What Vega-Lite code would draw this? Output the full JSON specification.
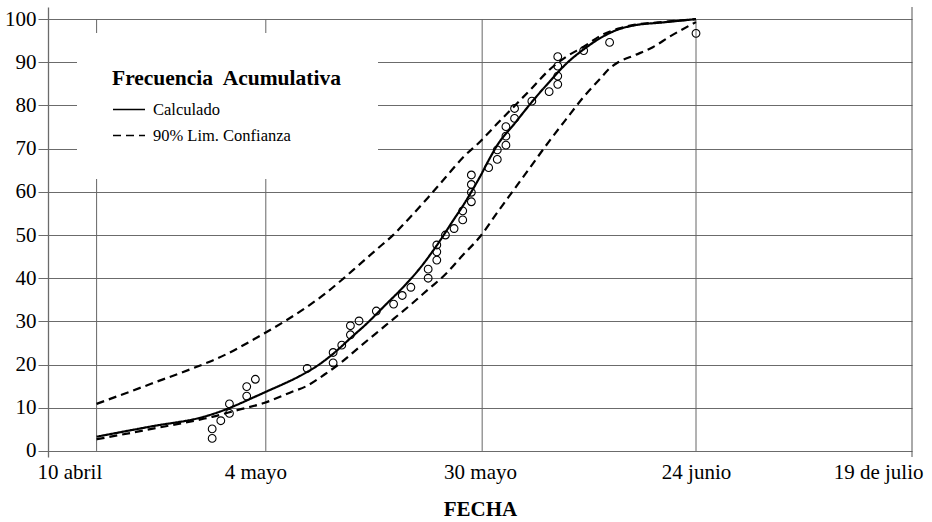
{
  "$schema": "https://vega.github.io/schema/vega-lite/v6.json",
  "width": 864,
  "height": 450,
  "autosize": {"type": "none"},
  "padding": {"left": 48, "top": 7, "right": 20, "bottom": 65},
  "background": "white",
  "config": {
    "view": {"stroke": null},
    "font": "Liberation Serif",
    "axis": {"labelFont": "Liberation Serif", "titleFont": "Liberation Serif", "labelColor": "black", "titleColor": "black"}
  },
  "datasets": {
    "rejilla": [
      {"fecha": "2021-04-15T15:00:00Z"},
      {"fecha": "2021-05-05T05:00:00Z"},
      {"fecha": "2021-05-30T06:00:00Z"},
      {"fecha": "2021-06-24"}
    ],
    "borde": [
      {"fecha": "2021-07-19"}
    ],
    "curvas": [
      {"fecha": "2021-04-15T15:00:00Z", "curva": "Calculado", "tipo": "Calculado", "valor": 3.3},
      {"fecha": "2021-04-22", "curva": "Calculado", "tipo": "Calculado", "valor": 5.7},
      {"fecha": "2021-04-28", "curva": "Calculado", "tipo": "Calculado", "valor": 7.9},
      {"fecha": "2021-04-29", "curva": "Calculado", "tipo": "Calculado", "valor": 8.5},
      {"fecha": "2021-05-05", "curva": "Calculado", "tipo": "Calculado", "valor": 13.5},
      {"fecha": "2021-05-10", "curva": "Calculado", "tipo": "Calculado", "valor": 18.3},
      {"fecha": "2021-05-11", "curva": "Calculado", "tipo": "Calculado", "valor": 19.5},
      {"fecha": "2021-05-13", "curva": "Calculado", "tipo": "Calculado", "valor": 22.5},
      {"fecha": "2021-05-15", "curva": "Calculado", "tipo": "Calculado", "valor": 26.1},
      {"fecha": "2021-05-17", "curva": "Calculado", "tipo": "Calculado", "valor": 29.7},
      {"fecha": "2021-05-19", "curva": "Calculado", "tipo": "Calculado", "valor": 33.7},
      {"fecha": "2021-05-21", "curva": "Calculado", "tipo": "Calculado", "valor": 37.7},
      {"fecha": "2021-05-23", "curva": "Calculado", "tipo": "Calculado", "valor": 42.2},
      {"fecha": "2021-05-25", "curva": "Calculado", "tipo": "Calculado", "valor": 47.6},
      {"fecha": "2021-05-27", "curva": "Calculado", "tipo": "Calculado", "valor": 53.7},
      {"fecha": "2021-05-28", "curva": "Calculado", "tipo": "Calculado", "valor": 56.7},
      {"fecha": "2021-05-29", "curva": "Calculado", "tipo": "Calculado", "valor": 60.0},
      {"fecha": "2021-05-30", "curva": "Calculado", "tipo": "Calculado", "valor": 63.5},
      {"fecha": "2021-05-31", "curva": "Calculado", "tipo": "Calculado", "valor": 67.3},
      {"fecha": "2021-06-01", "curva": "Calculado", "tipo": "Calculado", "valor": 70.8},
      {"fecha": "2021-06-03", "curva": "Calculado", "tipo": "Calculado", "valor": 75.8},
      {"fecha": "2021-06-05", "curva": "Calculado", "tipo": "Calculado", "valor": 80.8},
      {"fecha": "2021-06-07", "curva": "Calculado", "tipo": "Calculado", "valor": 85.4},
      {"fecha": "2021-06-09", "curva": "Calculado", "tipo": "Calculado", "valor": 89.7},
      {"fecha": "2021-06-11", "curva": "Calculado", "tipo": "Calculado", "valor": 93.0},
      {"fecha": "2021-06-13", "curva": "Calculado", "tipo": "Calculado", "valor": 95.7},
      {"fecha": "2021-06-15", "curva": "Calculado", "tipo": "Calculado", "valor": 97.6},
      {"fecha": "2021-06-17", "curva": "Calculado", "tipo": "Calculado", "valor": 98.6},
      {"fecha": "2021-06-20", "curva": "Calculado", "tipo": "Calculado", "valor": 99.2},
      {"fecha": "2021-06-24", "curva": "Calculado", "tipo": "Calculado", "valor": 100},

      {"fecha": "2021-04-15T15:00:00Z", "curva": "Límite superior", "tipo": "90% Lim. Confianza", "valor": 10.9},
      {"fecha": "2021-04-22", "curva": "Límite superior", "tipo": "90% Lim. Confianza", "valor": 15.6},
      {"fecha": "2021-04-28", "curva": "Límite superior", "tipo": "90% Lim. Confianza", "valor": 20.1},
      {"fecha": "2021-04-29", "curva": "Límite superior", "tipo": "90% Lim. Confianza", "valor": 20.9},
      {"fecha": "2021-05-05", "curva": "Límite superior", "tipo": "90% Lim. Confianza", "valor": 27.2},
      {"fecha": "2021-05-10", "curva": "Límite superior", "tipo": "90% Lim. Confianza", "valor": 33.4},
      {"fecha": "2021-05-12", "curva": "Límite superior", "tipo": "90% Lim. Confianza", "valor": 36.3},
      {"fecha": "2021-05-14", "curva": "Límite superior", "tipo": "90% Lim. Confianza", "valor": 39.6},
      {"fecha": "2021-05-16", "curva": "Límite superior", "tipo": "90% Lim. Confianza", "valor": 43.1},
      {"fecha": "2021-05-18", "curva": "Límite superior", "tipo": "90% Lim. Confianza", "valor": 46.6},
      {"fecha": "2021-05-20", "curva": "Límite superior", "tipo": "90% Lim. Confianza", "valor": 50.1},
      {"fecha": "2021-05-22", "curva": "Límite superior", "tipo": "90% Lim. Confianza", "valor": 54.3},
      {"fecha": "2021-05-24", "curva": "Límite superior", "tipo": "90% Lim. Confianza", "valor": 58.7},
      {"fecha": "2021-05-26", "curva": "Límite superior", "tipo": "90% Lim. Confianza", "valor": 63.3},
      {"fecha": "2021-05-28", "curva": "Límite superior", "tipo": "90% Lim. Confianza", "valor": 67.9},
      {"fecha": "2021-05-30", "curva": "Límite superior", "tipo": "90% Lim. Confianza", "valor": 71.6},
      {"fecha": "2021-06-01", "curva": "Límite superior", "tipo": "90% Lim. Confianza", "valor": 75.8},
      {"fecha": "2021-06-03", "curva": "Límite superior", "tipo": "90% Lim. Confianza", "valor": 79.9},
      {"fecha": "2021-06-05", "curva": "Límite superior", "tipo": "90% Lim. Confianza", "valor": 84.0},
      {"fecha": "2021-06-07", "curva": "Límite superior", "tipo": "90% Lim. Confianza", "valor": 88.2},
      {"fecha": "2021-06-09", "curva": "Límite superior", "tipo": "90% Lim. Confianza", "valor": 91.3},
      {"fecha": "2021-06-11", "curva": "Límite superior", "tipo": "90% Lim. Confianza", "valor": 93.6},
      {"fecha": "2021-06-13", "curva": "Límite superior", "tipo": "90% Lim. Confianza", "valor": 96.2},
      {"fecha": "2021-06-15", "curva": "Límite superior", "tipo": "90% Lim. Confianza", "valor": 97.8},
      {"fecha": "2021-06-17", "curva": "Límite superior", "tipo": "90% Lim. Confianza", "valor": 98.7},
      {"fecha": "2021-06-20", "curva": "Límite superior", "tipo": "90% Lim. Confianza", "valor": 99.3},
      {"fecha": "2021-06-24", "curva": "Límite superior", "tipo": "90% Lim. Confianza", "valor": 100},

      {"fecha": "2021-04-15T15:00:00Z", "curva": "Límite inferior", "tipo": "90% Lim. Confianza", "valor": 2.7},
      {"fecha": "2021-04-22", "curva": "Límite inferior", "tipo": "90% Lim. Confianza", "valor": 5.1},
      {"fecha": "2021-04-28", "curva": "Límite inferior", "tipo": "90% Lim. Confianza", "valor": 7.45},
      {"fecha": "2021-04-29", "curva": "Límite inferior", "tipo": "90% Lim. Confianza", "valor": 7.9},
      {"fecha": "2021-05-02", "curva": "Límite inferior", "tipo": "90% Lim. Confianza", "valor": 9.5},
      {"fecha": "2021-05-05", "curva": "Límite inferior", "tipo": "90% Lim. Confianza", "valor": 11.1},
      {"fecha": "2021-05-08", "curva": "Límite inferior", "tipo": "90% Lim. Confianza", "valor": 13.5},
      {"fecha": "2021-05-10", "curva": "Límite inferior", "tipo": "90% Lim. Confianza", "valor": 15.1},
      {"fecha": "2021-05-12", "curva": "Límite inferior", "tipo": "90% Lim. Confianza", "valor": 17.7},
      {"fecha": "2021-05-14", "curva": "Límite inferior", "tipo": "90% Lim. Confianza", "valor": 20.6},
      {"fecha": "2021-05-16", "curva": "Límite inferior", "tipo": "90% Lim. Confianza", "valor": 24.0},
      {"fecha": "2021-05-18", "curva": "Límite inferior", "tipo": "90% Lim. Confianza", "valor": 27.3},
      {"fecha": "2021-05-20", "curva": "Límite inferior", "tipo": "90% Lim. Confianza", "valor": 30.6},
      {"fecha": "2021-05-22", "curva": "Límite inferior", "tipo": "90% Lim. Confianza", "valor": 33.9},
      {"fecha": "2021-05-24", "curva": "Límite inferior", "tipo": "90% Lim. Confianza", "valor": 37.4},
      {"fecha": "2021-05-26", "curva": "Límite inferior", "tipo": "90% Lim. Confianza", "valor": 40.9},
      {"fecha": "2021-05-28", "curva": "Límite inferior", "tipo": "90% Lim. Confianza", "valor": 45.3},
      {"fecha": "2021-05-30", "curva": "Límite inferior", "tipo": "90% Lim. Confianza", "valor": 49.6},
      {"fecha": "2021-06-01", "curva": "Límite inferior", "tipo": "90% Lim. Confianza", "valor": 55.2},
      {"fecha": "2021-06-03", "curva": "Límite inferior", "tipo": "90% Lim. Confianza", "valor": 60.7},
      {"fecha": "2021-06-05", "curva": "Límite inferior", "tipo": "90% Lim. Confianza", "valor": 66.2},
      {"fecha": "2021-06-07", "curva": "Límite inferior", "tipo": "90% Lim. Confianza", "valor": 71.7},
      {"fecha": "2021-06-09", "curva": "Límite inferior", "tipo": "90% Lim. Confianza", "valor": 76.9},
      {"fecha": "2021-06-11", "curva": "Límite inferior", "tipo": "90% Lim. Confianza", "valor": 82.0},
      {"fecha": "2021-06-13", "curva": "Límite inferior", "tipo": "90% Lim. Confianza", "valor": 86.4},
      {"fecha": "2021-06-14", "curva": "Límite inferior", "tipo": "90% Lim. Confianza", "valor": 88.6},
      {"fecha": "2021-06-15", "curva": "Límite inferior", "tipo": "90% Lim. Confianza", "valor": 90.0},
      {"fecha": "2021-06-17", "curva": "Límite inferior", "tipo": "90% Lim. Confianza", "valor": 91.7},
      {"fecha": "2021-06-19", "curva": "Límite inferior", "tipo": "90% Lim. Confianza", "valor": 93.5},
      {"fecha": "2021-06-21", "curva": "Límite inferior", "tipo": "90% Lim. Confianza", "valor": 96.0},
      {"fecha": "2021-06-24", "curva": "Límite inferior", "tipo": "90% Lim. Confianza", "valor": 99.3}
    ],
    "observado": [
      {"fecha": "2021-04-29", "valor": 2.9},
      {"fecha": "2021-04-29", "valor": 5.1},
      {"fecha": "2021-04-30", "valor": 7.0},
      {"fecha": "2021-05-01", "valor": 8.7},
      {"fecha": "2021-05-01", "valor": 10.9},
      {"fecha": "2021-05-03", "valor": 12.7},
      {"fecha": "2021-05-03", "valor": 14.9},
      {"fecha": "2021-05-04", "valor": 16.6},
      {"fecha": "2021-05-10", "valor": 19.1},
      {"fecha": "2021-05-13", "valor": 20.4},
      {"fecha": "2021-05-13", "valor": 22.8},
      {"fecha": "2021-05-14", "valor": 24.5},
      {"fecha": "2021-05-15", "valor": 26.9},
      {"fecha": "2021-05-15", "valor": 29.0},
      {"fecha": "2021-05-16", "valor": 30.1},
      {"fecha": "2021-05-18", "valor": 32.4},
      {"fecha": "2021-05-20", "valor": 34.0},
      {"fecha": "2021-05-21", "valor": 36.0},
      {"fecha": "2021-05-22", "valor": 37.9},
      {"fecha": "2021-05-24", "valor": 40.0},
      {"fecha": "2021-05-24", "valor": 42.1},
      {"fecha": "2021-05-25", "valor": 44.2},
      {"fecha": "2021-05-25", "valor": 46.1},
      {"fecha": "2021-05-25", "valor": 47.7},
      {"fecha": "2021-05-26", "valor": 50.0},
      {"fecha": "2021-05-27", "valor": 51.5},
      {"fecha": "2021-05-28", "valor": 53.5},
      {"fecha": "2021-05-28", "valor": 55.6},
      {"fecha": "2021-05-29", "valor": 57.7},
      {"fecha": "2021-05-29", "valor": 59.9},
      {"fecha": "2021-05-29", "valor": 61.7},
      {"fecha": "2021-05-29", "valor": 63.9},
      {"fecha": "2021-05-31", "valor": 65.6},
      {"fecha": "2021-06-01", "valor": 67.5},
      {"fecha": "2021-06-01", "valor": 69.7},
      {"fecha": "2021-06-02", "valor": 70.8},
      {"fecha": "2021-06-02", "valor": 72.9},
      {"fecha": "2021-06-02", "valor": 75.1},
      {"fecha": "2021-06-03", "valor": 77.0},
      {"fecha": "2021-06-03", "valor": 79.3},
      {"fecha": "2021-06-05", "valor": 81.0},
      {"fecha": "2021-06-07", "valor": 83.2},
      {"fecha": "2021-06-08", "valor": 84.9},
      {"fecha": "2021-06-08", "valor": 86.8},
      {"fecha": "2021-06-08", "valor": 89.1},
      {"fecha": "2021-06-08", "valor": 91.3},
      {"fecha": "2021-06-11", "valor": 92.7},
      {"fecha": "2021-06-14", "valor": 94.6},
      {"fecha": "2021-06-24", "valor": 96.7}
    ]
  },
  "encoding": {
    "x": {
      "field": "fecha",
      "type": "temporal",
      "scale": {
        "type": "utc",
        "domain": [
          {"year": 2021, "month": 4, "date": 10, "utc": true},
          {"year": 2021, "month": 7, "date": 19, "utc": true}
        ]
      },
      "axis": {
        "values": [
          {"year": 2021, "month": 4, "date": 10, "utc": true},
          {"year": 2021, "month": 5, "date": 4, "utc": true},
          {"year": 2021, "month": 5, "date": 30, "utc": true},
          {"year": 2021, "month": 6, "date": 24, "utc": true},
          {"year": 2021, "month": 7, "date": 19, "utc": true}
        ],
        "labelExpr": "utcdate(datum.value) + (utcmonth(datum.value) == 3 ? ' abril' : utcmonth(datum.value) == 4 ? ' mayo' : utcmonth(datum.value) == 5 ? ' junio' : ' de julio')",
        "grid": false,
        "ticks": false,
        "domain": false,
        "labelFlush": true,
        "labelFlushOffset": 11,
        "labelFontSize": 21,
        "labelPadding": 4,
        "title": "FECHA",
        "titleFontSize": 21,
        "titleFontWeight": "bold",
        "titlePadding": 16
      }
    }
  },
  "layer": [
    {
      "data": {"name": "rejilla"},
      "mark": {"type": "rule", "color": "#666666", "strokeWidth": 1},
      "encoding": {
        "y": {"datum": 0, "type": "quantitative", "title": null},
        "y2": {"datum": 100}
      }
    },
    {
      "data": {"name": "borde"},
      "mark": {"type": "rule", "color": "#555555", "strokeWidth": 1},
      "encoding": {}
    },
    {
      "data": {"name": "curvas"},
      "mark": {"type": "line", "color": "black", "strokeWidth": 2.2, "interpolate": "monotone"},
      "encoding": {
        "y": {
          "field": "valor",
          "type": "quantitative",
          "title": null,
          "scale": {"domain": [-1.4, 102.8], "nice": false, "zero": false},
          "axis": {
            "values": [0, 10, 20, 30, 40, 50, 60, 70, 80, 90, 100],
            "grid": true,
            "gridColor": "#6b6b6b",
            "gridWidth": 1,
            "domainColor": "#6b6b6b",
            "domainWidth": 1.3,
            "tickColor": "#6b6b6b",
            "tickSize": 10,
            "labelPadding": 2,
            "labelFontSize": 21,
            "title": null
          }
        },
        "detail": {"field": "curva", "type": "nominal"},
        "strokeDash": {
          "field": "tipo",
          "type": "nominal",
          "scale": {"domain": ["Calculado", "90% Lim. Confianza"], "range": [[1, 0], [8, 5]]},
          "legend": {
            "title": "Frecuencia\u00a0 Acumulativa",
            "orient": "none",
            "legendX": 29,
            "legendY": 26,
            "fillColor": "white",
            "padding": 35,
            "titleFont": "Liberation Serif",
            "titleFontSize": 21.5,
            "titleFontWeight": "bold",
            "titleColor": "black",
            "titleLimit": 400,
            "titlePadding": 3,
            "labelFont": "Liberation Serif",
            "labelFontSize": 16.5,
            "labelColor": "black",
            "labelOffset": 7,
            "labelLimit": 300,
            "symbolType": "stroke",
            "symbolSize": 1024,
            "symbolStrokeColor": "black",
            "symbolStrokeWidth": 1.3,
            "rowPadding": -1
          }
        }
      }
    },
    {
      "data": {"name": "observado"},
      "mark": {"type": "point", "shape": "circle", "filled": false, "color": "black", "opacity": 1, "size": 60, "strokeWidth": 1.1},
      "encoding": {
        "y": {"field": "valor", "type": "quantitative", "title": null}
      }
    }
  ]
}
